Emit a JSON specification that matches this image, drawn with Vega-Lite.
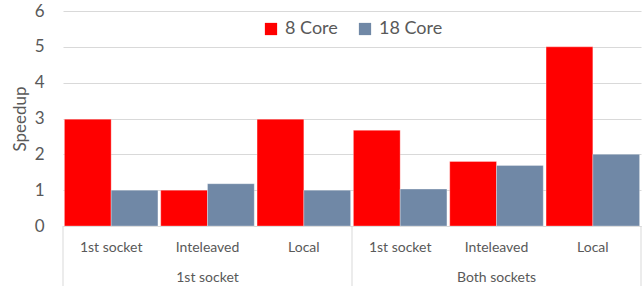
{
  "$schema": "https://vega.github.io/schema/vega-lite/v6.json",
  "autosize": "none",
  "width": 578,
  "height": 215,
  "padding": {"left": 63, "top": 11, "right": 2, "bottom": 60},
  "background": "white",
  "config": {
    "font": "Lato",
    "view": {"stroke": null},
    "axis": {"labelFont": "Lato", "titleFont": "Lato", "labelColor": "#595959", "titleColor": "#595959"},
    "axisY": {
      "values": [0, 1, 2, 3, 4, 5, 6],
      "labelOverlap": false,
      "labelFontSize": 17,
      "labelPadding": 19,
      "ticks": false,
      "domain": false,
      "gridColor": "#d9d9d9",
      "gridWidth": 1.2,
      "titleFontSize": 17,
      "titleFontWeight": "normal",
      "titlePadding": 5
    }
  },
  "datasets": {
    "bars": [
      {"key": "1st socket|1st socket", "series": "8 Core", "speedup": 2.98},
      {"key": "1st socket|1st socket", "series": "18 Core", "speedup": 1.0},
      {"key": "1st socket|Inteleaved", "series": "8 Core", "speedup": 1.0},
      {"key": "1st socket|Inteleaved", "series": "18 Core", "speedup": 1.18},
      {"key": "1st socket|Local", "series": "8 Core", "speedup": 2.98},
      {"key": "1st socket|Local", "series": "18 Core", "speedup": 1.0},
      {"key": "Both sockets|1st socket", "series": "8 Core", "speedup": 2.67},
      {"key": "Both sockets|1st socket", "series": "18 Core", "speedup": 1.03},
      {"key": "Both sockets|Inteleaved", "series": "8 Core", "speedup": 1.8},
      {"key": "Both sockets|Inteleaved", "series": "18 Core", "speedup": 1.69},
      {"key": "Both sockets|Local", "series": "8 Core", "speedup": 5.0},
      {"key": "Both sockets|Local", "series": "18 Core", "speedup": 2.0}
    ],
    "groups": [
      {"key": "1st socket|Inteleaved", "label": "1st socket"},
      {"key": "Both sockets|Inteleaved", "label": "Both sockets"}
    ],
    "starts": [
      {"key": "1st socket|1st socket"},
      {"key": "Both sockets|1st socket"}
    ],
    "ends": [
      {"key": "Both sockets|Local"}
    ]
  },
  "layer": [
    {
      "data": {"name": "bars"},
      "mark": {"type": "bar", "stroke": "white", "strokeWidth": 0.5, "strokeOpacity": 0.6},
      "encoding": {
        "x": {
          "field": "key", "type": "nominal", "sort": null,
          "scale": {"paddingInner": 0, "paddingOuter": 0},
          "axis": {
            "title": null,
            "labelExpr": "split(datum.value, '|')[1]",
            "labelAngle": 0,
            "labelFontSize": 14,
            "labelPadding": 14,
            "ticks": false,
            "domainColor": "#d9d9d9",
            "domainWidth": 1
          }
        },
        "xOffset": {
          "field": "series", "type": "nominal",
          "sort": ["8 Core", "18 Core"],
          "scale": {"paddingOuter": 0.03, "paddingInner": 0}
        },
        "y": {
          "field": "speedup", "type": "quantitative",
          "scale": {"domain": [0, 6], "nice": false},
          "axis": {"title": "Speedup", "values": [0, 1, 2, 3, 4, 5, 6]}
        },
        "color": {
          "field": "series", "type": "nominal",
          "sort": ["8 Core", "18 Core"],
          "scale": {"domain": ["8 Core", "18 Core"], "range": ["#ff0000", "#7088a6"]},
          "legend": {
            "title": null,
            "orient": "none",
            "direction": "horizontal",
            "legendX": 199,
            "legendY": 9,
            "symbolType": "square",
            "symbolSize": 150,
            "symbolStrokeWidth": 0,
            "labelFontSize": 18,
            "labelColor": "#595959",
            "labelFont": "Lato",
            "columnPadding": 18,
            "labelOffset": 5
          }
        }
      }
    },
    {
      "data": {"name": "groups"},
      "mark": {"type": "text", "fontSize": 14, "color": "#595959", "baseline": "middle", "dy": 52, "font": "Lato"},
      "encoding": {
        "x": {"field": "key", "type": "nominal", "sort": null},
        "y": {"datum": 0, "axis": {"title": "Speedup", "values": [0, 1, 2, 3, 4, 5, 6]}},
        "text": {"field": "label"}
      }
    },
    {
      "data": {"name": "starts"},
      "mark": {"type": "rule", "color": "#d9d9d9", "strokeWidth": 1},
      "encoding": {
        "x": {"field": "key", "type": "nominal", "sort": null, "bandPosition": 0},
        "y": {"datum": 0, "axis": {"title": "Speedup", "values": [0, 1, 2, 3, 4, 5, 6]}},
        "y2": {"datum": -1.68}
      }
    },
    {
      "data": {"name": "ends"},
      "mark": {"type": "rule", "color": "#d9d9d9", "strokeWidth": 1},
      "encoding": {
        "x": {"field": "key", "type": "nominal", "sort": null, "bandPosition": 1},
        "y": {"datum": 0, "axis": {"title": "Speedup", "values": [0, 1, 2, 3, 4, 5, 6]}},
        "y2": {"datum": -1.68}
      }
    }
  ]
}
